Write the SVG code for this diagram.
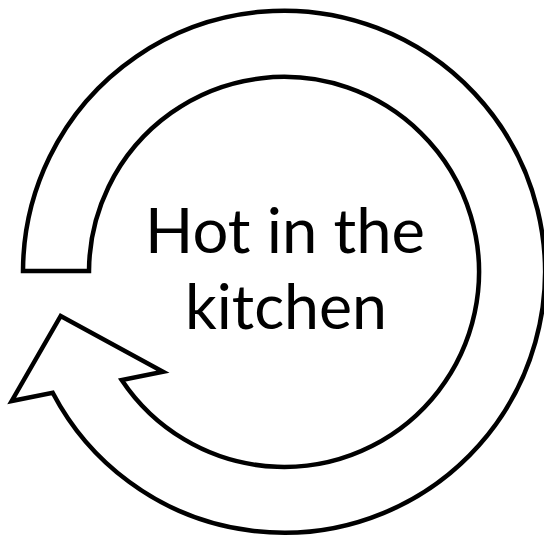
<svg xmlns="http://www.w3.org/2000/svg" width="544" height="537" viewBox="0 0 544 537">
<style>
.arrow{fill:#ffffff;stroke:#000000;stroke-width:4.5;stroke-linejoin:miter}
.lbl{font-family:Lato,"Open Sans","Liberation Sans",sans-serif;font-size:62px;fill:#000000;text-anchor:middle}
</style>
<rect width="544" height="537" fill="#ffffff"/>
<g id="cycle-arrow">
<path class="arrow" d="M 23 271 A 261 261 0 1 1 52.7 392.7 L 11.7 401 L 60.7 316 L 163 371.7 L 121.7 380 A 195 195 0 1 0 89 271 Z"/>
</g>
<g id="label">
<text class="lbl" x="285" y="253" textLength="280" lengthAdjust="spacingAndGlyphs">Hot in the</text>
<text class="lbl" x="286" y="329" textLength="202" lengthAdjust="spacingAndGlyphs">kitchen</text>
</g>
</svg>
